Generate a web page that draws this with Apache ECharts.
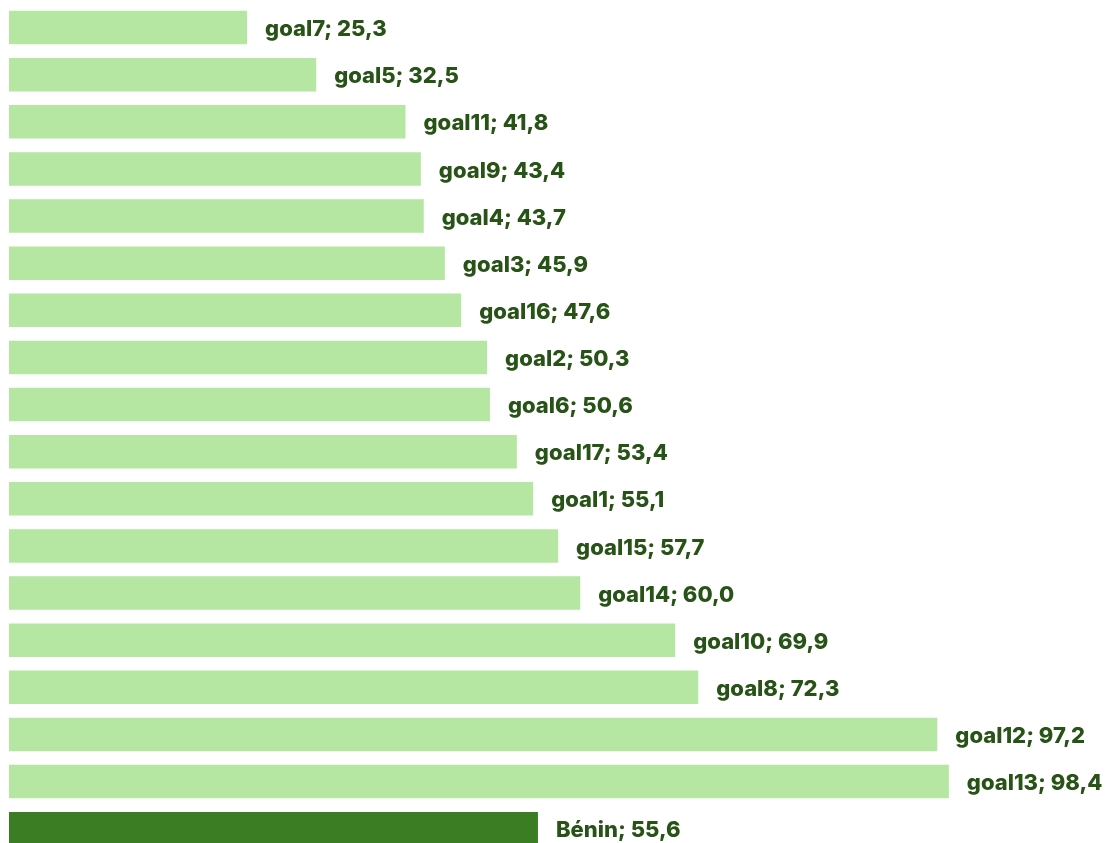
<!DOCTYPE html>
<html>
<head>
<meta charset="utf-8">
<script src="https://cdn.jsdelivr.net/npm/echarts@6/dist/echarts.min.js"></script>
<style>html,body{margin:0;padding:0;background:#fff;}#c{width:1115px;height:843px;}</style>
</head>
<body>
<div id="c"></div>
<script>
const categories = ["goal7","goal5","goal11","goal9","goal4","goal3","goal16","goal2","goal6","goal17","goal1","goal15","goal14","goal10","goal8","goal12","goal13","Bénin"];
const values = [25.3,32.5,41.8,43.4,43.7,45.9,47.6,50.3,50.6,53.4,55.1,57.7,60.0,69.9,72.3,97.2,98.4,55.6];
const highlight = "Bénin";

const chart = echarts.init(document.getElementById('c'), null, {renderer:'canvas'});
chart.setOption({
  animation:false,
  backgroundColor:'#ffffff',
  grid:{left:9, top:4, width:1051.2, height:848.25, containLabel:false, outerBoundsMode:'none'},
  xAxis:{type:'value', min:0.5, max:110, show:false},
  yAxis:{type:'category', data:categories, inverse:true, show:false},
  series:[{
    type:'bar',
    barCategoryGap:'29%',
    data: values.map((v,i)=>({value:v, itemStyle:{color: categories[i]===highlight ? '#3A7D22' : '#B5E6A2'}})),
    label:{
      show:true, position:'right', distance:18, offset:[0,2],
      fontFamily:'Inter', fontWeight:800, fontSize:22, color:'#275317',
      formatter:p=>p.name+'; '+p.value.toFixed(1).replace('.',',')
    }
  }]
});
</script>
</body>
</html>
